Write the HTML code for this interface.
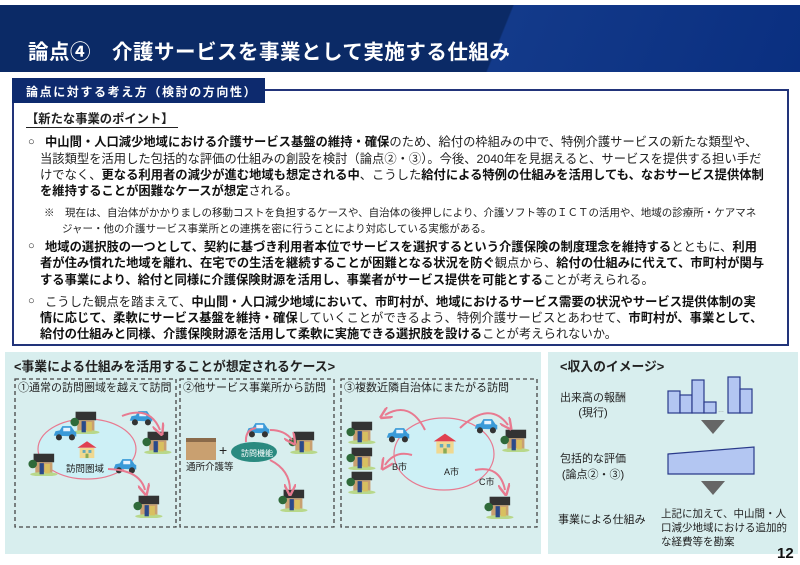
<!DOCTYPE html>
<html><head><meta charset="utf-8"><style>
*{margin:0;padding:0;box-sizing:border-box}
body{width:800px;height:565px;background:#fff;position:relative;overflow:hidden;font-family:"Liberation Sans","Noto Sans CJK JP",sans-serif;color:#222}
.a{position:absolute;white-space:nowrap}
.hdr{position:absolute;left:0;top:5px;width:800px;height:67px;background:linear-gradient(112deg,#0b2a66 0,#0b2a66 62%,#133a8a 62.2%,#0a2f80 100%)}
.t{font-size:20.5px;font-weight:bold;color:#fff;left:28px;top:35px;letter-spacing:.5px}
.lab{left:12px;top:78px;width:253px;height:25px;background:#0d2a6e;color:#fff;font-size:12px;font-weight:bold;padding:5px 0 0 14px;letter-spacing:1.6px}
.box{position:absolute;left:12px;top:89px;width:777px;height:257px;border:2px solid #22347a;border-top:none}
.topl{position:absolute;left:265px;top:89px;width:524px;height:2px;background:#22347a}
p.l{position:absolute;font-size:12.3px;left:45px;white-space:nowrap;line-height:16px}
b{font-weight:bold;color:#111}
.n{font-size:10.5px;left:62px;white-space:nowrap;position:absolute}
.sm{font-size:11px}
</style></head><body>
<div class="hdr"></div>
<div class="a t">論点④　介護サービスを事業として実施する仕組み</div>
<div class="box"></div><div class="topl"></div>
<div class="a lab">論点に対する考え方（検討の方向性）</div>
<div class="a" style="left:26px;top:109px;font-size:12.3px;font-weight:bold;border-bottom:1px solid #222;padding-right:4px">【新たな事業のポイント】</div>
<div class="a sm" style="left:28px;top:136px">○</div>
<p class="l" style="top:134px"><b>中山間・人口減少地域における介護サービス基盤の維持・確保</b>のため、給付の枠組みの中で、特例介護サービスの新たな類型や、</p>
<p class="l" style="top:151px;left:40px">当該類型を活用した包括的な評価の仕組みの創設を検討（論点②・③）。今後、2040年を見据えると、サービスを提供する担い手だ</p>
<p class="l" style="top:167px;left:40px">けでなく、<b>更なる利用者の減少が進む地域も想定される中</b>、こうした<b>給付による特例の仕組みを活用しても、なおサービス提供体制</b></p>
<p class="l" style="top:183px;left:40px"><b>を維持することが困難なケースが想定</b>される。</p>
<div class="n" style="left:44px;top:205px">※　現在は、自治体がかかりましの移動コストを負担するケースや、自治体の後押しにより、介護ソフト等のＩＣＴの活用や、地域の診療所・ケアマネ</div>
<div class="n" style="top:221px">ジャー・他の介護サービス事業所との連携を密に行うことにより対応している実態がある。</div>
<div class="a sm" style="left:28px;top:240px">○</div>
<p class="l" style="top:239px"><b>地域の選択肢の一つとして、</b><b>契約に基づき利用者本位でサービスを選択するという介護保険の制度理念を維持する</b>とともに、<b>利用</b></p>
<p class="l" style="top:255px;left:40px"><b>者が住み慣れた地域を離れ、在宅での生活を継続することが困難となる状況を防ぐ</b>観点から、<b>給付の仕組みに代えて、市町村が関与</b></p>
<p class="l" style="top:272px;left:40px"><b>する事業により、給付と同様に介護保険財源を活用し、事業者がサービス提供を可能とする</b>ことが考えられる。</p>
<div class="a sm" style="left:28px;top:295px">○</div>
<p class="l" style="top:294px">こうした観点を踏まえて、<b>中山間・人口減少地域において、市町村が、地域におけるサービス需要の状況やサービス提供体制の実</b></p>
<p class="l" style="top:310px;left:40px"><b>情に応じて、柔軟にサービス基盤を維持・確保</b>していくことができるよう、特例介護サービスとあわせて、<b>市町村が、事業として、</b></p>
<p class="l" style="top:326px;left:40px"><b>給付の仕組みと同様、介護保険財源を活用して柔軟に実施できる選択肢を設ける</b>ことが考えられないか。</p>

<svg style="position:absolute;left:0;top:0" width="800" height="565">
<defs>
<symbol id="h" viewBox="0 0 34 28"><rect x="6" y="2" width="24" height="10" fill="#333"/><rect x="8" y="12" width="20" height="12" fill="#c9a070"/><circle cx="5" cy="14" r="5" fill="#2f6a3a"/><ellipse cx="18" cy="26" rx="16" ry="2.5" fill="#b8d88a"/><rect x="13" y="13" width="5" height="13" fill="#2a4a8a"/><rect x="19" y="14" width="6" height="11" fill="#d8c060"/></symbol>
<symbol id="c" viewBox="0 0 30 18"><path d="M2 12 L4 7 L9 6 L12 1 L22 1 L26 7 L28 8 L28 13 Z" fill="#3a9ad8"/><rect x="13" y="3" width="8" height="4" fill="#e8f4ff"/><circle cx="8" cy="14" r="3.5" fill="#333"/><circle cx="23" cy="14" r="3.5" fill="#333"/></symbol>
<symbol id="H" viewBox="0 0 30 26"><path d="M2 10 L15 1 L28 10 Z" fill="#e04050"/><rect x="5" y="10" width="20" height="14" fill="#f0d890"/><rect x="9" y="13" width="4" height="4" fill="#6ab"/><rect x="17" y="13" width="4" height="4" fill="#6ab"/><rect x="13" y="18" width="4" height="6" fill="#8a5"/></symbol>
<marker id="ar" markerWidth="6" markerHeight="6" refX="3" refY="3" orient="auto"><path d="M0 0 L6 3 L0 6" fill="none" stroke="#e87a90" stroke-width="1.2"/></marker>
</defs>
<rect x="5" y="352" width="536" height="202" fill="#d8eeee"/>
<rect x="548" y="352" width="250" height="202" fill="#d8eeee"/>
<text x="14" y="371" font-size="12.8" font-weight="bold" fill="#222">&lt;事業による仕組みを活用することが想定されるケース&gt;</text>
<text x="560" y="371" font-size="12.8" font-weight="bold" fill="#222">&lt;収入のイメージ&gt;</text>
<g fill="none" stroke="#444" stroke-width="1.3" stroke-dasharray="4,3">
<rect x="15" y="379" width="161" height="148"/><rect x="180" y="379" width="154" height="148"/><rect x="341" y="379" width="196" height="148"/></g>
<g font-size="11" fill="#222"><text x="18" y="391">①通常の訪問圏域を越えて訪問</text><text x="183" y="391">②他サービス事業所から訪問</text><text x="344" y="391">③複数近隣自治体にまたがる訪問</text></g>
<ellipse cx="87" cy="449" rx="49" ry="30" fill="#cdf0f6" stroke="#e87a90" stroke-width="1.2"/>
<use href="#h" x="70" y="410" width="30" height="24"/><use href="#h" x="28" y="452" width="30" height="24"/>
<use href="#h" x="142" y="430" width="30" height="24"/><use href="#h" x="133" y="494" width="30" height="24"/>
<use href="#c" x="52" y="425" width="26" height="16"/><use href="#c" x="128" y="410" width="26" height="16"/><use href="#c" x="112" y="458" width="26" height="16"/>
<use href="#H" x="76" y="440" width="22" height="20"/>
<text x="66" y="472" font-size="9.5" fill="#222">訪問圏域</text>
<path d="M122 416 Q150 405 160 430" fill="none" stroke="#e87a90" stroke-width="2" marker-end="url(#ar)"/>
<path d="M108 469 Q140 470 145 490" fill="none" stroke="#e87a90" stroke-width="2" marker-end="url(#ar)"/>
<rect x="186" y="440" width="30" height="20" fill="#c9a070"/><rect x="186" y="438" width="30" height="4" fill="#8a6a4a"/>
<text x="219" y="455" font-size="14" fill="#222">+</text>
<ellipse cx="254" cy="452" rx="23" ry="10" fill="#2a8a80"/>
<text x="241" y="456" font-size="8" fill="#fff">訪問機能</text>
<text x="186" y="470" font-size="9.5" fill="#222">通所介護等</text>
<use href="#c" x="245" y="422" width="26" height="16"/>
<use href="#h" x="288" y="430" width="30" height="24"/><use href="#h" x="278" y="488" width="30" height="24"/>
<path d="M246 442 Q245 430 256 428" fill="none" stroke="#e87a90" stroke-width="2"/>
<path d="M270 430 Q285 430 292 440" fill="none" stroke="#e87a90" stroke-width="2" marker-end="url(#ar)"/>
<path d="M270 460 Q290 470 290 490" fill="none" stroke="#e87a90" stroke-width="2" marker-end="url(#ar)"/>
<ellipse cx="444" cy="454" rx="50" ry="36" fill="#cdf0f6" stroke="#e87a90" stroke-width="1.2"/>
<use href="#H" x="432" y="432" width="26" height="24"/>
<use href="#h" x="346" y="420" width="30" height="24"/><use href="#h" x="346" y="446" width="30" height="24"/><use href="#h" x="346" y="470" width="30" height="24"/>
<use href="#h" x="500" y="428" width="30" height="24"/><use href="#h" x="484" y="495" width="30" height="24"/>
<use href="#c" x="385" y="427" width="26" height="16"/><use href="#c" x="473" y="418" width="26" height="16"/>
<text x="392" y="470" font-size="9" fill="#222">B市</text><text x="444" y="475" font-size="9" fill="#222">A市</text><text x="479" y="485" font-size="9" fill="#222">C市</text>
<path d="M425 430 Q410 400 385 415" fill="none" stroke="#e87a90" stroke-width="2" marker-end="url(#ar)"/>
<path d="M412 455 Q395 450 385 465" fill="none" stroke="#e87a90" stroke-width="2" marker-end="url(#ar)"/>
<path d="M460 428 Q490 400 508 425" fill="none" stroke="#e87a90" stroke-width="2" marker-end="url(#ar)"/>
<path d="M475 470 Q500 465 505 490" fill="none" stroke="#e87a90" stroke-width="2" marker-end="url(#ar)"/>
<g fill="#b3c6f2" stroke="#2a3a8a" stroke-width="1.2">
<rect x="668" y="391" width="12" height="22"/><rect x="680" y="395" width="12" height="18"/><rect x="692" y="380" width="12" height="33"/><rect x="704" y="402" width="12" height="11"/><rect x="728" y="377" width="12" height="36"/><rect x="740" y="389" width="12" height="24"/>
<path d="M668 454 L754 447 L754 474 L668 474 Z"/></g>
<text x="718" y="412" font-size="6" fill="#888">…</text>
<path d="M701 420 L725 420 L713 434 Z" fill="#666"/><path d="M701 481 L725 481 L713 495 Z" fill="#666"/>
<g font-size="11" fill="#222" text-anchor="middle"><text x="593" y="401">出来高の報酬</text><text x="593" y="416">(現行)</text><text x="593" y="462">包括的な評価</text><text x="593" y="478">(論点②・③)</text></g>
<text x="558" y="523" font-size="11" fill="#222">事業による仕組み</text>
<g font-size="10.5" fill="#222"><text x="661" y="517">上記に加えて、中山間・人</text><text x="661" y="531">口減少地域における追加的</text><text x="661" y="545">な経費等を勘案</text></g>
<text x="777" y="558" font-size="15" font-weight="bold" fill="#111">12</text>
</svg>
</body></html>
